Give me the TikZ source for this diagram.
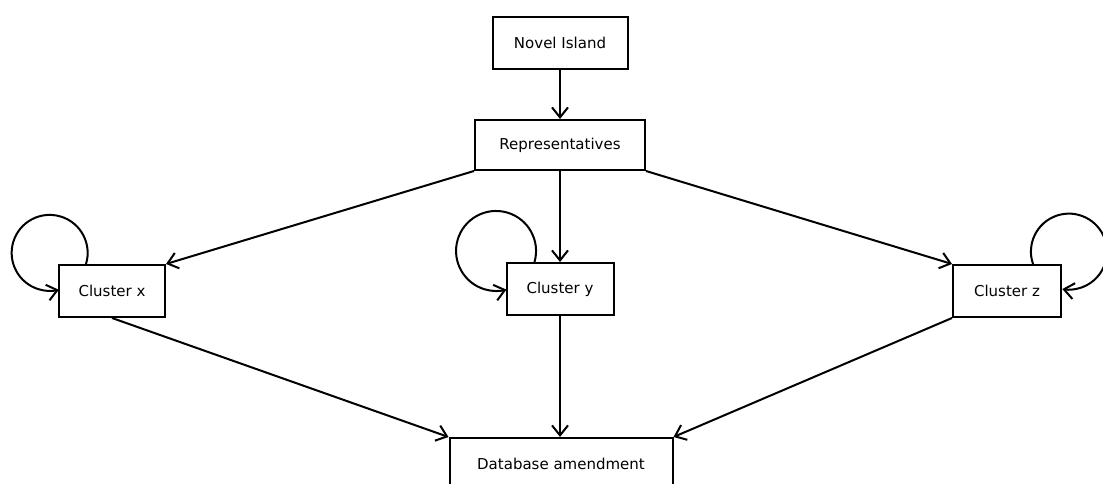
\documentclass[tikz,border=0pt]{standalone}
\usepackage{fontspec}
\setmainfont{DejaVu Sans}
\usetikzlibrary{arrows.meta}
\begin{document}
\begin{tikzpicture}[x=1pt,y=1pt,
  box/.style={draw,line width=2pt,minimum height=52pt,inner sep=0pt,font=\fontsize{15pt}{17pt}\selectfont},
  arr/.style={line width=2pt,-{Straight Barb[length=10pt,width=16pt,line width=2pt]}}]
\clip (0,0) rectangle (1103,484);
\useasboundingbox (0,0) rectangle (1103,484);
\node[box,minimum width=135pt] (ni) at (560,441) {Novel Island};
\node[box,minimum width=170pt,minimum height=50pt] (rep) at (560,339) {Representatives};
\node[box,minimum width=106pt] (cx) at (112,193) {Cluster x};
\node[box,minimum width=107pt] (cy) at (560,195) {Cluster y};
\node[box,minimum width=108pt] (cz) at (1007,193) {Cluster z};
\node[box,minimum width=223pt] (db) at (561,20) {Database amendment};
\draw[arr] (ni) -- (rep);
\draw[arr] (rep.south west) -- (cx.north east);
\draw[arr] (rep.south) -- (cy.north);
\draw[arr] (rep.south east) -- (cz.north west);
\draw[arr] (cx.south) -- (db.north west);
\draw[arr] (cy.south) -- (cy.south |- db.north);
\draw[arr] (cz.south west) -- (db.north east);
\draw[arr] ([xshift=-26pt]cx.north) arc[start angle=-17,end angle=284,radius=38pt];
\draw[arr] ([xshift=-25.5pt]cy.north) arc[start angle=-16,end angle=285,radius=40pt];
\draw[arr] ([xshift=26pt]cz.north) arc[start angle=199,end angle=-100,radius=38pt];
\end{tikzpicture}
\end{document}
